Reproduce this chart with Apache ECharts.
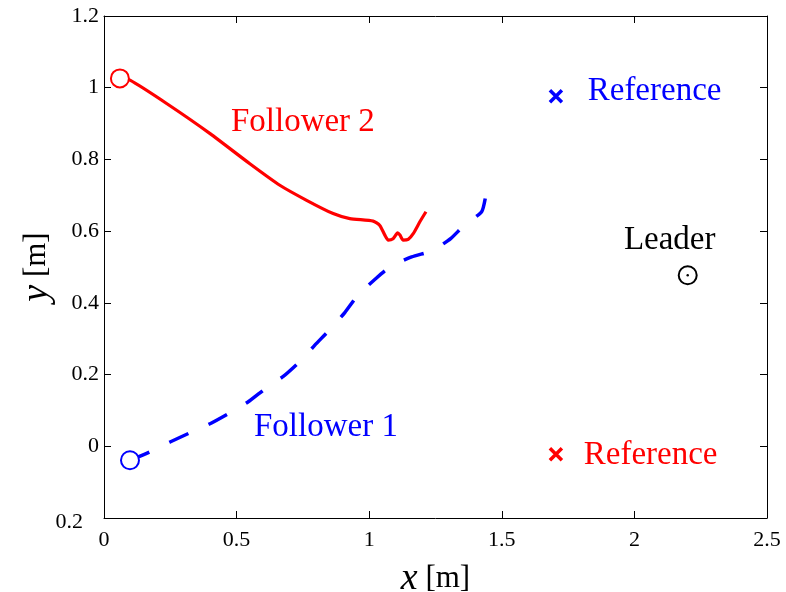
<!DOCTYPE html>
<html>
<head>
<meta charset="utf-8">
<script src="https://cdn.jsdelivr.net/npm/echarts@6/dist/echarts.min.js"></script>
<style>
  html, body { margin: 0; padding: 0; background: #fff; }
  #chart { width: 786px; height: 592px; }
</style>
</head>
<body>
<div id="chart"></div>
<script>
// Trajectories of the two followers in the plane [x, y] in metres
var follower2Path = [
  [0.060, 1.026], [0.098, 1.021], [0.236, 0.956], [0.400, 0.872], [0.550, 0.788],
  [0.663, 0.728], [0.764, 0.686], [0.864, 0.649], [0.927, 0.635], [1.015, 0.628],
  [1.040, 0.616], [1.059, 0.589], [1.072, 0.575], [1.090, 0.579], [1.107, 0.595],
  [1.116, 0.589], [1.128, 0.575], [1.147, 0.577], [1.166, 0.593], [1.191, 0.626],
  [1.214, 0.654]
];
var follower1Path = [
  [0.098, -0.039], [0.171, -0.016], [0.249, 0.012], [0.322, 0.037], [0.400, 0.063],
  [0.469, 0.091], [0.544, 0.124], [0.609, 0.161], [0.676, 0.195], [0.739, 0.237],
  [0.795, 0.282], [0.852, 0.326], [0.908, 0.373], [0.959, 0.423], [1.021, 0.465],
  [1.078, 0.500], [1.160, 0.528], [1.233, 0.544], [1.270, 0.560], [1.307, 0.579],
  [1.361, 0.618], [1.424, 0.654], [1.439, 0.697]
];
// Start points, reference targets and leader position
var follower2Start = [0.060, 1.026];
var follower1Start = [0.098, -0.039];
var reference1 = [1.704, 0.976];
var reference2 = [1.704, -0.022];
var leaderPos = [2.201, 0.477];

// Axis settings
var xTicks = { min: 0, max: 2.5, interval: 0.5 };
var yTicks = { min: -0.2, max: 1.2, interval: 0.2 };

var BLUE = '#0000ff', RED = '#ff0000', BLACK = '#000000';
var FONT = 'Liberation Serif';
var CROSS = 'path://M0,0L10,10M10,0L0,10';

function textItem(pos, text, color, align) {
  return {
    value: pos,
    label: {
      show: true, position: 'inside', formatter: text, color: color,
      fontFamily: FONT, fontSize: 33, align: align || 'center', verticalAlign: 'middle'
    }
  };
}

var chart = echarts.init(document.getElementById('chart'), null, { renderer: 'canvas' });

var frameAxis = {
  axisLine: { show: true, onZero: false, lineStyle: { color: BLACK, width: 1 } },
  axisTick: { show: true, inside: true, length: 7, lineStyle: { color: BLACK } },
  splitLine: { show: false }
};

function ring(point, color) {
  return {
    type: 'scatter', data: [point], symbol: 'emptyCircle', symbolSize: 18,
    itemStyle: { color: color, borderColor: color, borderWidth: 1.5, opacity: 1 }, z: 4
  };
}

function cross(point, color) {
  return {
    type: 'scatter', data: [point], symbol: CROSS, symbolSize: 12,
    itemStyle: { color: color, borderColor: color, borderWidth: 3.5, opacity: 1 }, z: 4
  };
}

chart.setOption({
  animation: false,
  backgroundColor: '#ffffff',
  grid: { left: 104, right: 19, top: 16, bottom: 74, containLabel: false, outerBoundsMode: 'none' },
  xAxis: [
    Object.assign({
      type: 'value', position: 'bottom', min: xTicks.min, max: xTicks.max, interval: xTicks.interval,
      axisLabel: { color: BLACK, fontFamily: FONT, fontSize: 22, margin: 11 },
      name: '{i|x} [m]', nameLocation: 'middle', nameGap: 42, nameMoveOverlap: false,
      nameTextStyle: {
        color: BLACK, fontFamily: FONT, fontSize: 31,
        rich: { i: { fontFamily: FONT, fontStyle: 'italic', fontSize: 38, color: BLACK } }
      }
    }, frameAxis),
    Object.assign({
      type: 'value', position: 'top', min: xTicks.min, max: xTicks.max, interval: xTicks.interval,
      axisLabel: { show: false }
    }, frameAxis)
  ],
  yAxis: [
    Object.assign({
      type: 'value', position: 'left', min: yTicks.min, max: yTicks.max, interval: yTicks.interval,
      axisLabel: {
        color: BLACK, fontFamily: FONT, fontSize: 22, margin: 5,
        formatter: function (v) {
          if (Math.abs(v - yTicks.min) < 1e-9) return '{neg|0.2}';
          return String(Math.round(v * 10) / 10);
        },
        rich: { neg: { fontFamily: FONT, fontSize: 22, color: BLACK, padding: [8, 16, 0, 0] } }
      },
      name: '{i|y} [m]', nameLocation: 'middle', nameGap: 48, nameRotate: 90, nameMoveOverlap: false,
      nameTextStyle: {
        color: BLACK, fontFamily: FONT, fontSize: 31,
        rich: { i: { fontFamily: FONT, fontStyle: 'italic', fontSize: 38, color: BLACK } }
      }
    }, frameAxis),
    Object.assign({
      type: 'value', position: 'right', min: yTicks.min, max: yTicks.max, interval: yTicks.interval,
      axisLabel: { show: false }
    }, frameAxis)
  ],
  series: [
    {
      type: 'line', data: follower2Path, showSymbol: false, symbol: 'none', smooth: 0.2,
      lineStyle: { color: RED, width: 3.2 }, z: 3
    },
    {
      type: 'line', data: follower1Path, showSymbol: false, symbol: 'none', smooth: 0.2,
      lineStyle: { color: BLUE, width: 3.5, type: [21, 22], cap: 'butt' }, z: 3
    },
    ring(follower2Start, RED),
    ring(follower1Start, BLUE),
    cross(reference1, BLUE),
    cross(reference2, RED),
    ring(leaderPos, BLACK),
    {
      type: 'scatter', data: [leaderPos], symbol: 'circle', symbolSize: 2.5,
      itemStyle: { color: BLACK, opacity: 1 }, z: 5
    },
    {
      // text annotations placed in data coordinates
      type: 'scatter', symbol: 'circle', symbolSize: 0, silent: true, z: 6,
      itemStyle: { opacity: 1 },
      data: [
        textItem([0.750, 0.904], 'Follower 2', RED),
        textItem([0.837, 0.053], 'Follower 1', BLUE),
        textItem([1.824, 0.990], 'Reference', BLUE, 'left'),
        textItem([1.809, -0.025], 'Reference', RED, 'left'),
        textItem([2.133, 0.575], 'Leader', BLACK)
      ]
    }
  ]
});
</script>
</body>
</html>
